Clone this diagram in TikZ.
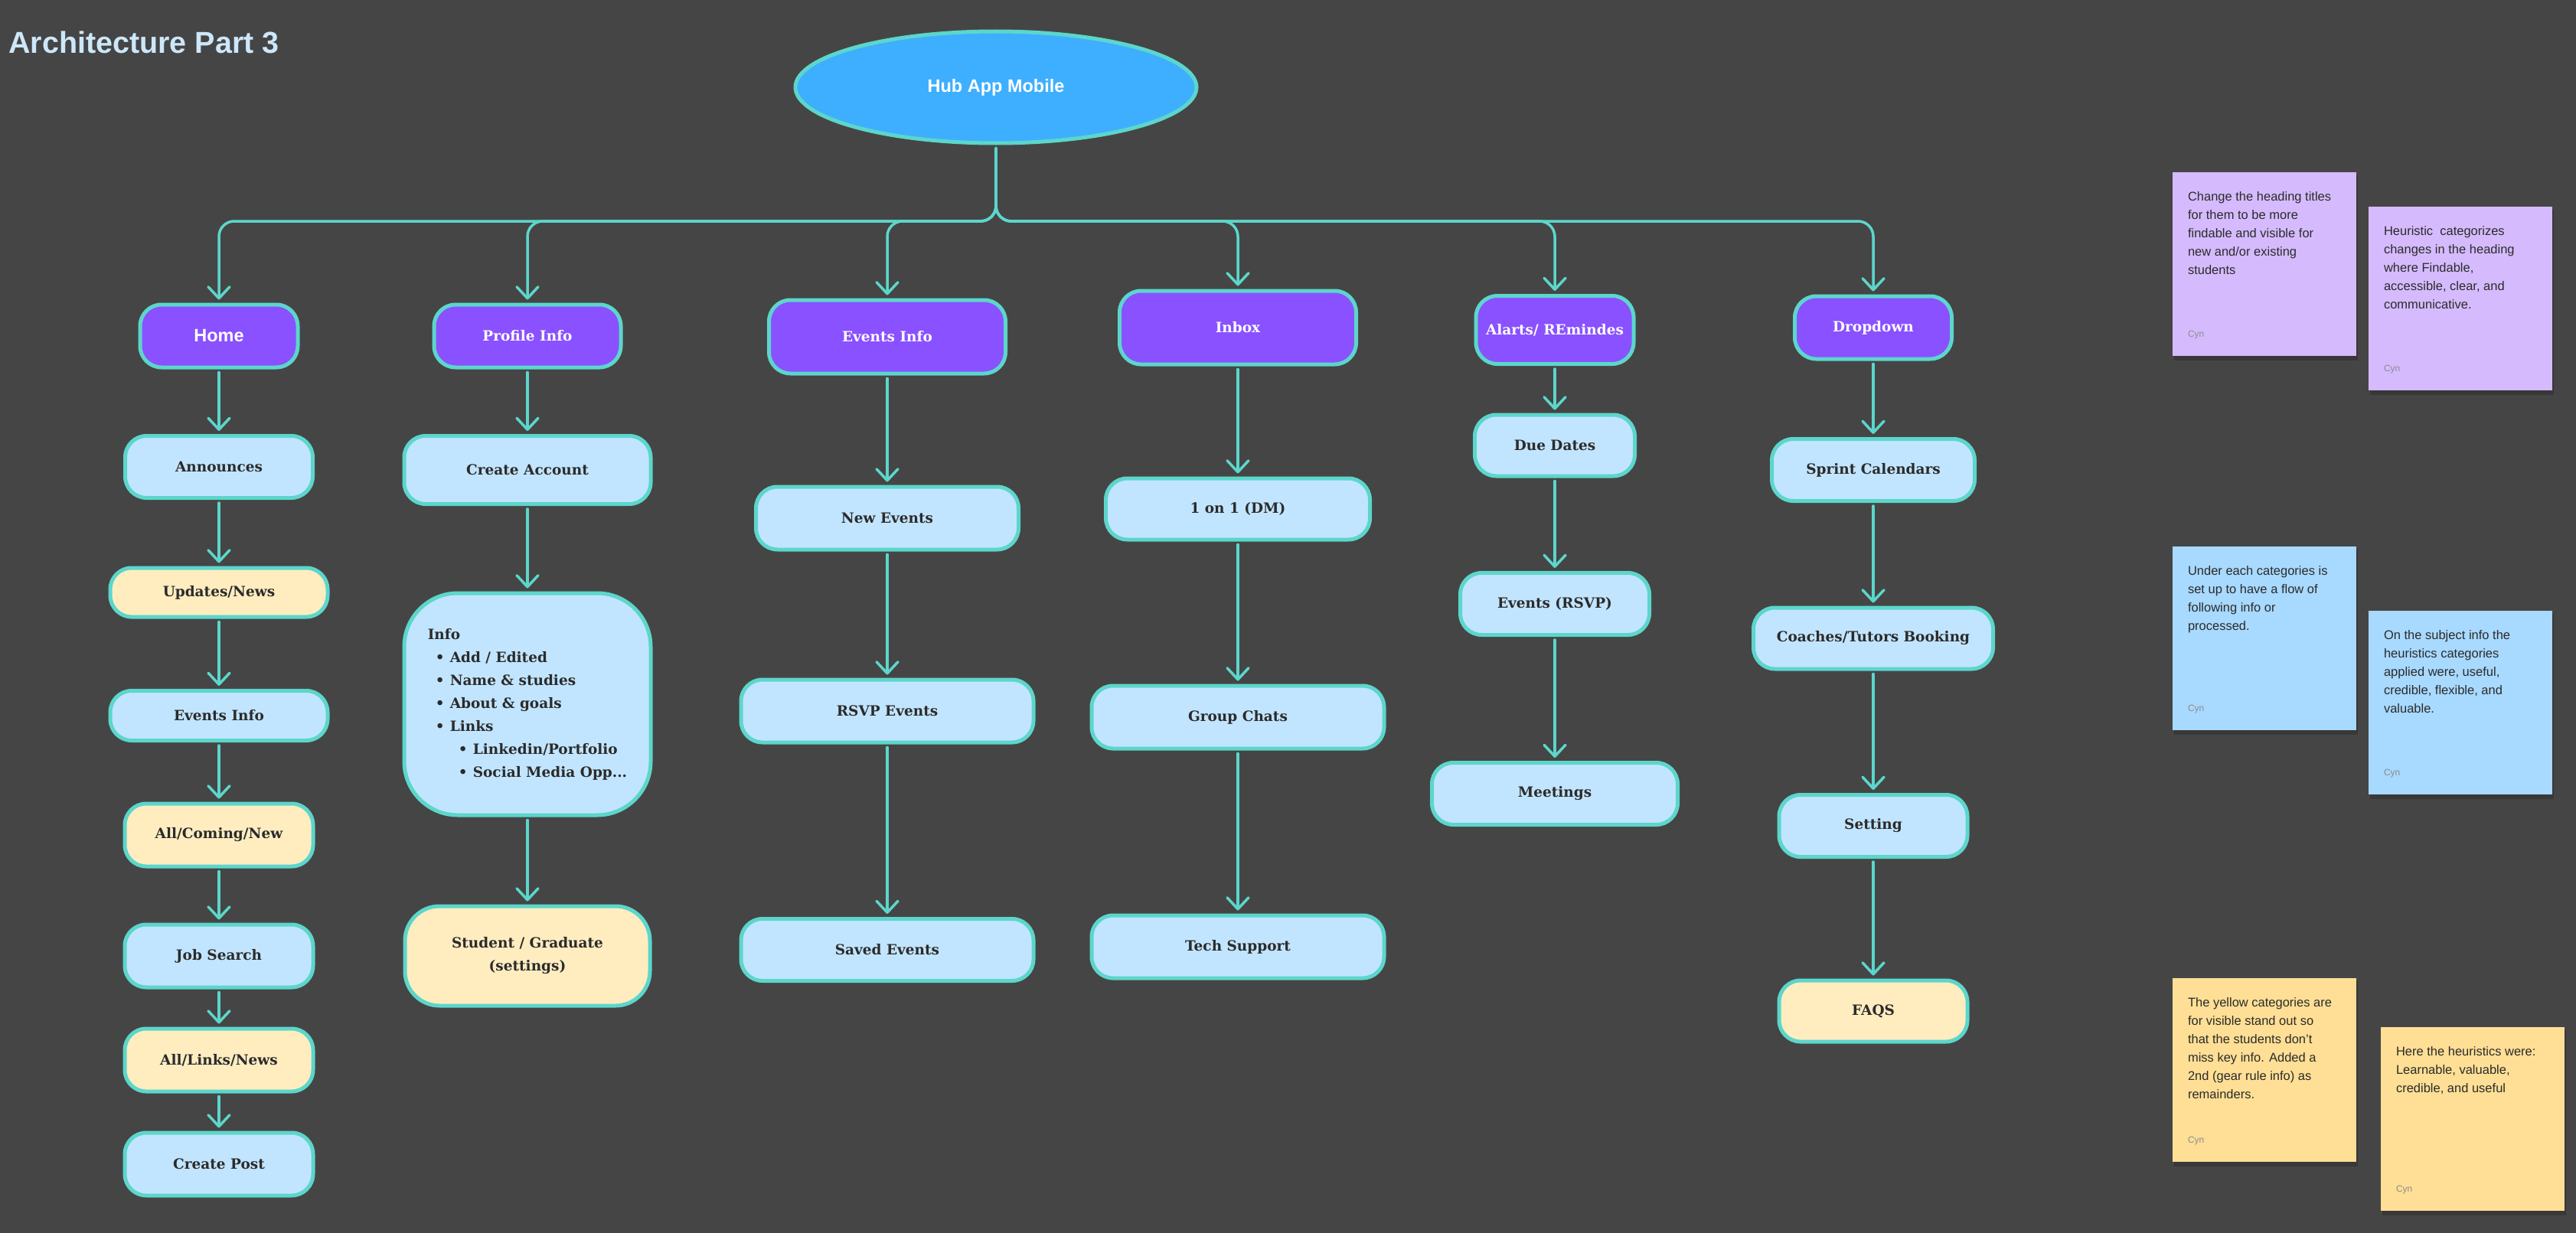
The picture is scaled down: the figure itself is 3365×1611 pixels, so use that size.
\documentclass[tikz,border=0pt]{standalone}
\usepackage{fontspec}
\setmainfont{DejaVu Serif}
\setsansfont{Liberation Sans}
\newfontfamily\notefont{Liberation Sans}
\usetikzlibrary{arrows.meta,shapes.geometric,calc}
\definecolor{bg}{HTML}{454545}
\definecolor{tealc}{HTML}{5CD6CB}
\definecolor{purp}{HTML}{8951FF}
\definecolor{lblue}{HTML}{C2E5FF}
\definecolor{lyel}{HTML}{FFEDC0}
\definecolor{hubc}{HTML}{3EAFFE}
\definecolor{ink}{HTML}{2B2B2B}
\definecolor{titlec}{HTML}{CDE7FA}
\definecolor{npurp}{HTML}{D5BBFD}
\definecolor{nblue}{HTML}{A8D9FE}
\definecolor{nyel}{HTML}{FEDF95}
\definecolor{cyngray}{HTML}{8C8C8C}
\tikzset{
  conn/.style={draw=tealc, line width=3.5pt, line cap=round,
    -{Straight Barb[length=15pt,width=28pt,line width=3.5pt,round]},
    shorten >=4pt, shorten <=4pt},
  bus/.style={conn, rounded corners=20pt},
  base/.style={draw=tealc, line width=5pt, rounded corners=28pt, align=center,
    inner sep=0pt, text=ink, font=\bfseries\fontsize{18.5}{30}\selectfont},
  head/.style={base, fill=purp, text=white},
  lb/.style={base, fill=lblue},
  yl/.style={base, fill=lyel},
  note/.style={inner sep=0pt, minimum width=240pt, minimum height=240pt, draw=none},
  notetext/.style={anchor=north west, inner sep=0pt, align=left, text=ink,
    font=\notefont\fontsize{16.5}{24}\selectfont},
  cyn/.style={anchor=west, inner sep=0pt, text=cyngray, font=\notefont\fontsize{12}{14}\selectfont},
}
\begin{document}
\begin{tikzpicture}[x=1pt,y=-1pt]
\fill[bg] (0,0) rectangle (3365,1611);
\useasboundingbox (0,0) rectangle (3365,1611);

% title
\node[anchor=west, inner sep=0pt, text=titlec, font=\sffamily\bfseries\fontsize{39.5}{44}\selectfont] (title) at (11,55) {Architecture Part 3};

% hub
\node[ellipse, draw=tealc, line width=5pt, fill=hubc, minimum width=524pt, minimum height=146pt, inner sep=0pt,
  text=white, font=\sffamily\bfseries\fontsize{23.5}{28}\selectfont] (hub) at (1301,114) {Hub App Mobile};
\coordinate (bus) at (1301,289);

% headers
\node[head, font=\sffamily\bfseries\fontsize{23.5}{28}\selectfont, minimum width=206pt, minimum height=82pt] (home) at (286,439) {Home};
\node[head, minimum width=244pt, minimum height=82pt] (prof) at (689,439) {Profile Info};
\node[head, minimum width=309pt, minimum height=96pt] (evh) at (1159,440) {Events Info};
\node[head, minimum width=309pt, minimum height=96pt] (inbox) at (1617,428) {Inbox};
\node[head, minimum width=206pt, minimum height=89pt] (alr) at (2031,431) {Alarts/ REmindes};
\node[head, minimum width=205pt, minimum height=82pt] (drop) at (2447,428) {Dropdown};

% column 1
\node[lb, minimum width=245pt, minimum height=81pt] (ann) at (286,610) {Announces};
\node[yl, minimum width=284pt, minimum height=64pt] (upd) at (286,774) {Updates/News};
\node[lb, minimum width=284pt, minimum height=65pt] (evi) at (286,935) {Events Info};
\node[yl, minimum width=246pt, minimum height=82pt] (acn) at (286,1091) {All/Coming/New};
\node[lb, minimum width=246pt, minimum height=82pt] (job) at (286,1249) {Job Search};
\node[yl, minimum width=246pt, minimum height=82pt] (aln) at (286,1385) {All/Links/News};
\node[lb, minimum width=246pt, minimum height=82pt] (cpo) at (286,1521) {Create Post};

% column 2
\node[lb, minimum width=322pt, minimum height=89pt] (cacc) at (689,614) {Create Account};
\node[lb, align=left, rounded corners=70pt, minimum width=322pt, minimum height=290pt] (info) at (689,920)
 {Info\\
  \hspace*{10pt}\makebox[19pt][l]{•}Add / Edited\\
  \hspace*{10pt}\makebox[19pt][l]{•}Name \& studies\\
  \hspace*{10pt}\makebox[19pt][l]{•}About \& goals\\
  \hspace*{10pt}\makebox[19pt][l]{•}Links\\
  \hspace*{40pt}\makebox[19pt][l]{•}Linkedin/Portfolio\\
  \hspace*{40pt}\makebox[19pt][l]{•}Social Media Opp...};
\node[yl, rounded corners=45pt, minimum width=320pt, minimum height=130pt] (stud) at (689,1249) {Student / Graduate\\(settings)};

% column 3
\node[lb, minimum width=343pt, minimum height=82pt] (nev) at (1159,677) {New Events};
\node[lb, minimum width=382pt, minimum height=82pt] (rsvp) at (1159,929) {RSVP Events};
\node[lb, minimum width=382pt, minimum height=81pt] (sav) at (1159,1241) {Saved Events};

% column 4
\node[lb, minimum width=345pt, minimum height=80pt] (dm) at (1617,665) {1 on 1 (DM)};
\node[lb, minimum width=382pt, minimum height=82pt] (grp) at (1617,937) {Group Chats};
\node[lb, minimum width=382pt, minimum height=82pt] (tech) at (1617,1237) {Tech Support};

% column 5
\node[lb, minimum width=209pt, minimum height=80pt] (due) at (2031,582) {Due Dates};
\node[lb, minimum width=247pt, minimum height=81pt] (evr) at (2031,789) {Events (RSVP)};
\node[lb, minimum width=321pt, minimum height=81pt] (meet) at (2031,1037) {Meetings};

% column 6
\node[lb, minimum width=265pt, minimum height=81pt] (spr) at (2447,614) {Sprint Calendars};
\node[lb, minimum width=313pt, minimum height=80pt] (coach) at (2447,834) {Coaches/Tutors Booking};
\node[lb, minimum width=246pt, minimum height=81pt] (set) at (2447,1079) {Setting};
\node[yl, minimum width=246pt, minimum height=80pt] (faq) at (2447,1321) {FAQS};

% bus connectors
\foreach \t in {home,prof,evh,inbox,alr,drop}
  \draw[bus] (hub.south) -- (bus) -| (\t.north);

% chains
\foreach \a/\b in {home/ann,ann/upd,upd/evi,evi/acn,acn/job,job/aln,aln/cpo,
  prof/cacc,cacc/info,info/stud,
  evh/nev,nev/rsvp,rsvp/sav,
  inbox/dm,dm/grp,grp/tech,
  alr/due,due/evr,evr/meet,
  drop/spr,spr/coach,coach/set,set/faq}
  \draw[conn] (\a.south) -- (\b.north);

% sticky notes
\foreach \n/\cx/\cy/\col in {n1/2958/345/npurp, n2/3214/390/npurp, n3/2958/834/nblue,
  n4/3214/918/nblue, n5/2958/1398/nyel, n6/3230/1462/nyel}{
  \fill[black, opacity=0.18] (\cx-118,\cy-116) rectangle (\cx+122,\cy+126);
  \node[note, fill=\col] (\n) at (\cx,\cy) {};
  \node[cyn] (\n c) at ($(\n.south west)+(20,-28)$) {Cyn};
}
\node[notetext] (n1t) at ($(n1.north west)+(20,26)$) {Change the heading titles\\for them to be more\\findable and visible for\\new and/or existing\\students};
\node[notetext] (n2t) at ($(n2.north west)+(20,26)$) {Heuristic\ \ categorizes\\changes in the heading\\where Findable,\\accessible, clear, and\\communicative.};
\node[notetext] (n3t) at ($(n3.north west)+(20,26)$) {Under each categories is\\set up to have a flow of\\following info or\\processed.};
\node[notetext] (n4t) at ($(n4.north west)+(20,26)$) {On the subject info the\\heuristics categories\\applied were, useful,\\credible, flexible, and\\valuable.};
\node[notetext] (n5t) at ($(n5.north west)+(20,26)$) {The yellow categories are\\for visible stand out so\\that the students don’t\\miss key info. Added a\\2nd (gear rule info) as\\remainders.};
\node[notetext] (n6t) at ($(n6.north west)+(20,26)$) {Here the heuristics were:\\Learnable, valuable,\\credible, and useful};
\end{tikzpicture}
\end{document}
